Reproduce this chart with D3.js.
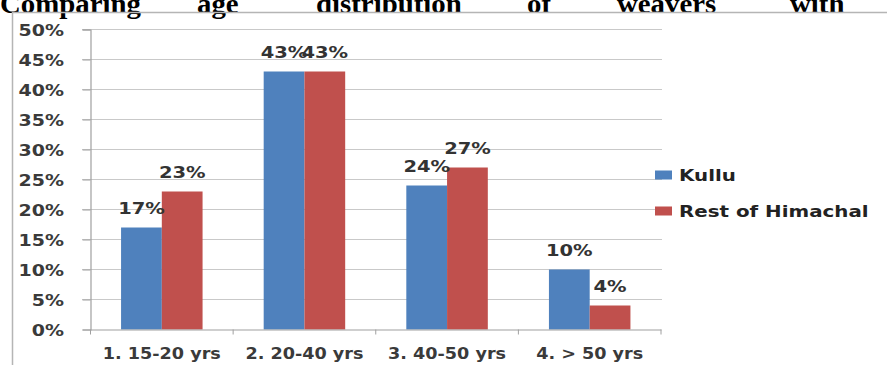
<!DOCTYPE html>
<html>
<head>
<meta charset="utf-8">
<script src="https://cdn.jsdelivr.net/npm/d3@7"></script>
<style>
  html, body { margin: 0; padding: 0; background: #fff; }
  svg { display: block; }
</style>
</head>
<body>
<svg id="chart" width="887" height="365"></svg>
<script>
// Age groups and the share of weavers in each, per region
const categories = ["1. 15-20 yrs", "2. 20-40 yrs", "3. 40-50 yrs", "4. > 50 yrs"];
const seriesNames = ["Kullu", "Rest of Himachal"];
const kullu = [0.17, 0.43, 0.24, 0.10];
const restOfHimachal = [0.23, 0.43, 0.27, 0.04];
const yTicks = [0, 0.05, 0.10, 0.15, 0.20, 0.25, 0.30, 0.35, 0.40, 0.45, 0.50];
const titleWords = ["Comparing", "age", "distribution", "of", "weavers", "with"];

const colors = ["#4F81BD", "#C0504D"];
const seriesValues = [kullu, restOfHimachal];

const svg = d3.select("#chart");

// Horizontally stretched text helper
function placeText(sel, x, y, sx) {
  return sel.attr("x", 0).attr("y", 0)
    .attr("transform", `translate(${x},${y}) scale(${sx},1)`);
}

// Justified heading line (upper part falls above the page edge)
const titleX = [0, 197, 316, 527, 617, 790];
const title = svg.append("g")
  .attr("font-family", "'Liberation Serif', serif")
  .attr("font-weight", "bold")
  .attr("font-size", 28)
  .attr("fill", "#000");
titleWords.forEach((w, i) => {
  placeText(title.append("text").text(w), titleX[i], 13, 1.03);
});

// Chart frame
svg.append("path")
  .attr("d", "M12.5,365 V12.5 H887")
  .attr("fill", "none")
  .attr("stroke", "#b5b5b5")
  .attr("stroke-width", 1.5);

// Scales
const x0 = d3.scaleBand().domain(categories).range([90.5, 661]).padding(0);
const x1 = d3.scaleBand().domain(seriesNames).range([0, x0.bandwidth()])
  .paddingInner(0).paddingOuter(0.75);
const y = d3.scaleLinear().domain([0, 0.5]).range([329.5, 29.5]);

// Horizontal gridlines
svg.append("g")
  .selectAll("line")
  .data(yTicks.slice(1))
  .join("line")
  .attr("x1", 82).attr("x2", 662)
  .attr("y1", d => y(d)).attr("y2", d => y(d))
  .attr("stroke", "#c9c9c9")
  .attr("stroke-width", 1.2);

// Y axis
const yAxis = svg.append("g")
  .attr("transform", "translate(90.5,0)")
  .call(d3.axisLeft(y).tickValues(yTicks).tickSize(8).tickFormat(d3.format(".0%")));
yAxis.select(".domain").attr("stroke", "#a0a0a0").attr("stroke-width", 1.2);
yAxis.selectAll(".tick line").attr("stroke", "#a0a0a0");
yAxis.selectAll(".tick text").remove();
yAxis.selectAll(".tick").each(function(d) {
  const t = d3.select(this).append("text")
    .text(d3.format(".0%")(d))
    .attr("font-family", "'DejaVu Sans', sans-serif")
    .attr("font-weight", "bold")
    .attr("font-size", 16.5)
    .attr("fill", "#3a3a3a")
    .attr("text-anchor", "end")
    .attr("dominant-baseline", "central");
  placeText(t, -26.5, 0, 1.15);
});

// Bars
const groups = svg.append("g")
  .selectAll("g")
  .data(categories)
  .join("g")
  .attr("transform", d => `translate(${x0(d)},0)`);

groups.selectAll("rect")
  .data((c, i) => seriesNames.map((s, j) => ({ s, j, v: seriesValues[j][i] })))
  .join("rect")
  .attr("x", d => x1(d.s))
  .attr("width", x1.bandwidth())
  .attr("y", d => y(d.v))
  .attr("height", d => y(0) - y(d.v))
  .attr("fill", d => colors[d.j]);

// Value labels above bars
groups.each(function(c, i) {
  const g = d3.select(this);
  seriesNames.forEach((s, j) => {
    const v = seriesValues[j][i];
    const t = g.append("text")
      .text(d3.format(".0%")(v))
      .attr("font-family", "'DejaVu Sans', sans-serif")
      .attr("font-weight", "bold")
      .attr("font-size", 15)
      .attr("fill", "#333")
      .attr("text-anchor", "middle")
      .attr("dominant-baseline", "central");
    placeText(t, x1(s) + x1.bandwidth() / 2, y(v) - 19, 1.3);
  });
});

// X axis
const xAxis = svg.append("g")
  .attr("transform", `translate(0,${y(0)})`)
  .call(d3.axisBottom(x0).tickSize(0).tickFormat(""));
xAxis.select(".domain").attr("stroke", "#a0a0a0").attr("stroke-width", 1.2);
xAxis.selectAll(".tick").remove();
// Category boundary ticks
const bounds = categories.map(c => x0(c)).concat([x0.range()[1]]);
xAxis.selectAll("line.bound")
  .data(bounds)
  .join("line")
  .attr("class", "bound")
  .attr("x1", d => d).attr("x2", d => d)
  .attr("y1", 0).attr("y2", 5)
  .attr("stroke", "#a0a0a0");
categories.forEach(c => {
  const t = xAxis.append("text")
    .text(c)
    .attr("font-family", "'DejaVu Sans', sans-serif")
    .attr("font-weight", "bold")
    .attr("font-size", 16)
    .attr("fill", "#3a3a3a")
    .attr("text-anchor", "middle");
  placeText(t, x0(c) + x0.bandwidth() / 2, 29.5, 1.1);
});

// Legend
const legend = svg.append("g");
seriesNames.forEach((s, j) => {
  const cy = 175 + j * 36;
  legend.append("rect")
    .attr("x", 655).attr("y", cy - 4.5)
    .attr("width", 17).attr("height", 9)
    .attr("fill", colors[j]);
  const t = legend.append("text")
    .text(s)
    .attr("font-family", "'DejaVu Sans', sans-serif")
    .attr("font-weight", "bold")
    .attr("font-size", 16)
    .attr("fill", "#222")
    .attr("dominant-baseline", "central");
  placeText(t, 679, cy, 1.24);
});
</script>
</body>
</html>
